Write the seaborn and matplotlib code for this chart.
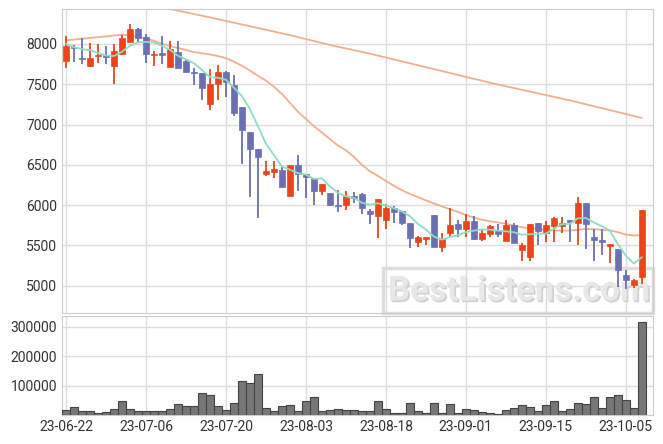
import numpy as np
import pandas as pd
import matplotlib
matplotlib.use("Agg")
import matplotlib.pyplot as plt
import matplotlib.patheffects as pe
from matplotlib.patches import Rectangle
import seaborn as sns

# ---------------------------------------------
# Data
# ---------------------------------------------

tick_labels = ["23-06-22", "23-07-06", "23-07-20", "23-08-03",
               "23-08-18", "23-09-01", "23-09-15", "23-10-05"]

opens = [7787, 7963, 7820, 7725, 7848, 7869, 7725, 7873, 8020, 8185,
         8086, 7861, 7881, 7713, 7905, 7794, 7658, 7646, 7258, 7501,
         7654, 7497, 7221, 6904, 6694, 6389, 6414, 6440, 6117, 6500,
         6385, 6335, 6171, 6154, 6006, 6006, 6113, 6138, 5928, 5862,
         5813, 5970, 5930, 5777, 5546, 5583, 5872, 5475, 5657, 5765,
         5707, 5802, 5579, 5645, 5686, 5558, 5752, 5442, 5360, 5777,
         5657, 5744, 5744, 5818, 5783, 6021, 5608, 5562, 5496, 5458,
         5137, 5012, 5112]
highs = [8094, 7988, 8070, 8012, 7996, 7971, 7996, 8115, 8250, 8193,
         8119, 7918, 8094, 8037, 8041, 7800, 7700, 7646, 7687, 7740,
         7660, 7609, 7221, 6904, 6694, 6550, 6550, 6478, 6500, 6623,
         6385, 6335, 6265, 6154, 6187, 6171, 6162, 6146, 5957, 6076,
         6014, 5990, 5930, 5777, 5616, 5604, 5872, 5649, 5971, 5822,
         5893, 5868, 5686, 5760, 5765, 5810, 5773, 5525, 5765, 5777,
         5806, 5855, 5847, 5818, 6104, 6021, 5708, 5708, 5512, 5458,
         5195, 5083, 5937]
lows = [7705, 7775, 7754, 7720, 7762, 7746, 7508, 7860, 8020, 8029,
        7766, 7721, 7750, 7713, 7703, 7650, 7497, 7308, 7184, 7308,
        7345, 7102, 6509, 6097, 5837, 6360, 6335, 6220, 6109, 6179,
        6088, 6006, 6130, 5990, 5912, 5941, 6023, 5891, 5767, 5595,
        5706, 5780, 5760, 5463, 5476, 5504, 5475, 5422, 5608, 5608,
        5608, 5566, 5558, 5608, 5608, 5558, 5525, 5306, 5306, 5504,
        5546, 5546, 5657, 5546, 5500, 5458, 5312, 5383, 5283, 4979,
        4958, 4970, 5020]
closes = [7980, 7947, 7812, 7820, 7869, 7836, 7918, 8078, 8185, 8078,
          7873, 7881, 7869, 7939, 7703, 7650, 7637, 7456, 7506, 7654,
          7526, 7147, 6937, 6698, 6599, 6430, 6447, 6225, 6500, 6385,
          6344, 6171, 6265, 6002, 5990, 6113, 6084, 5961, 5887, 6076,
          5965, 5915, 5773, 5587, 5604, 5604, 5484, 5579, 5752, 5707,
          5802, 5579, 5653, 5740, 5645, 5756, 5525, 5504, 5765, 5682,
          5752, 5839, 5781, 5785, 6033, 5767, 5566, 5541, 5512, 5200,
          5066, 5075, 5937]
volumes = [16000, 26000, 12000, 12000, 8000, 10000, 22000, 46000, 22000, 12000,
           15000, 12000, 15000, 22000, 38000, 32000, 32000, 73000, 67000, 32000,
           18000, 42000, 117000, 108000, 140000, 25000, 15000, 32000, 35000, 12000,
           46000, 60000, 15000, 18000, 22000, 18000, 18000, 15000, 15000, 46000,
           22000, 8000, 8000, 42000, 15000, 8000, 42000, 8000, 38000, 8000,
           22000, 18000, 10000, 8000, 4000, 18000, 25000, 35000, 28000, 15000,
           35000, 46000, 15000, 22000, 42000, 38000, 60000, 25000, 60000, 67000,
           50000, 25000, 315000]

ma5 = [8000, 7960, 7935, 7925, 7886, 7857, 7851, 7904, 7977, 8019,
       8026, 8019, 7977, 7928, 7853, 7808, 7760, 7677, 7590, 7581,
       7556, 7458, 7354, 7192, 6981, 6762, 6622, 6480, 6440, 6397,
       6380, 6325, 6333, 6233, 6154, 6108, 6091, 6030, 6007, 6024,
       5995, 5961, 5923, 5863, 5769, 5697, 5610, 5572, 5605, 5625,
       5665, 5684, 5699, 5696, 5684, 5675, 5664, 5634, 5639, 5646,
       5646, 5708, 5764, 5768, 5838, 5841, 5786, 5738, 5684, 5517,
       5373, 5275, 5354]
ma20 = [8045, 8055, 8065, 8075, 8085, 8095, 8105, 8115, 8110, 8090,
        8070, 8040, 8000, 7975, 7950, 7925, 7900, 7885, 7870, 7850,
        7825, 7780, 7730, 7670, 7605, 7545, 7470, 7380, 7270, 7160,
        7070, 6980, 6900, 6820, 6740, 6680, 6600, 6500, 6420, 6364,
        6300, 6240, 6186, 6140, 6100, 6060, 6021, 5985, 5950, 5917,
        5880, 5845, 5820, 5800, 5785, 5770, 5745, 5725, 5715, 5705,
        5695, 5688, 5683, 5687, 5695, 5705, 5702, 5695, 5687, 5665,
        5635, 5625, 5628]
ma_long_idx = [10, 13, 18, 23, 28, 33, 38, 43, 48, 53, 58, 63, 68, 72]
ma_long = [8500, 8434, 8330, 8220, 8110, 7988, 7880, 7760, 7640, 7520,
           7410, 7300, 7180, 7082]

# ---------------------------------------------
# Style
# ---------------------------------------------

sns.set_style("white")
plt.rcParams["font.family"] = ["Roboto", "DejaVu Sans"]

up_color = "#E8461A"
down_color = "#6B6FB4"
grid_color = "#DDDDDD"

x = np.arange(len(closes))
df = pd.DataFrame({"x": x, "open": opens, "high": highs, "low": lows,
                   "close": closes, "volume": volumes, "ma5": ma5, "ma20": ma20})
colors = [up_color if c >= o else down_color for o, c in zip(opens, closes)]

W, H = 663, 444
fig = plt.figure(figsize=(W / 100, H / 100), dpi=100)
ax1 = fig.add_axes([62 / W, 1 - 313 / H, 591 / W, 304 / H])
ax2 = fig.add_axes([62 / W, 1 - 415 / H, 591 / W, 99 / H], sharex=ax1)

# ---------------------------------------------
# Price pane
# ---------------------------------------------

ax1.vlines(df["x"], df["low"], df["high"], colors=colors, lw=1.3, zorder=3)
body_low = np.minimum(df["open"], df["close"])
body_h = np.maximum(np.abs(df["close"] - df["open"]), 15)
ax1.bar(df["x"], body_h, bottom=body_low, width=0.72, color=colors,
        edgecolor=colors, linewidth=0.5, zorder=4)

sns.lineplot(data=df, x="x", y="ma5", ax=ax1, color="#8FDCC0", lw=1.3, zorder=5)
sns.lineplot(data=df, x="x", y="ma20", ax=ax1, color="#F0B090", lw=1.3, zorder=2)
sns.lineplot(x=ma_long_idx, y=ma_long, ax=ax1, color="#F0B090", lw=1.3, zorder=2)

ax1.set_ylim(4662, 8434)
ax1.set_yticks([5000, 5500, 6000, 6500, 7000, 7500, 8000])
ax1.grid(True, color=grid_color, lw=1)
ax1.set_axisbelow(True)
ax1.tick_params(labelbottom=False, length=0, labelsize=10, labelcolor="#333333")
ax1.set_xlabel("")
ax1.set_ylabel("")

# watermark (behind the candles)
ax1.add_patch(Rectangle((383 / W, 1 - 313 / H), 270 / W, 45 / H,
                        transform=fig.transFigure, fc="none", ec="#DDDDDD",
                        lw=2.5, zorder=1, clip_on=False))
wm = ax1.text(519 / W, 1 - 291 / H, "BestListens.com", transform=fig.transFigure,
              ha="center", va="center", fontsize=25, fontweight="bold",
              color="#E8E8E8", zorder=1)
wm.set_path_effects([pe.withSimplePatchShadow(offset=(1.2, -1.2),
                                              shadow_rgbFace="#D0D0D0", alpha=1.0)])

# ---------------------------------------------
# Volume pane
# ---------------------------------------------

ax2.bar(df["x"], df["volume"], width=1.0, color="#777777",
        edgecolor="#444444", linewidth=0.8, zorder=3)
ax2.set_ylim(0, 336000)
ax2.set_yticks([100000, 200000, 300000])
ax2.grid(True, color=grid_color, lw=1)
ax2.set_axisbelow(True)
ax2.set_xticks(np.arange(0, 71, 10))
ax2.set_xticklabels(tick_labels)
ax2.tick_params(length=0, labelsize=10, labelcolor="#333333")
ax2.set_xlim(-0.5, 73.4)

for ax in (ax1, ax2):
    for s in ax.spines.values():
        s.set_color("#CCCCCC")

fig.savefig("out.png", dpi=100)
